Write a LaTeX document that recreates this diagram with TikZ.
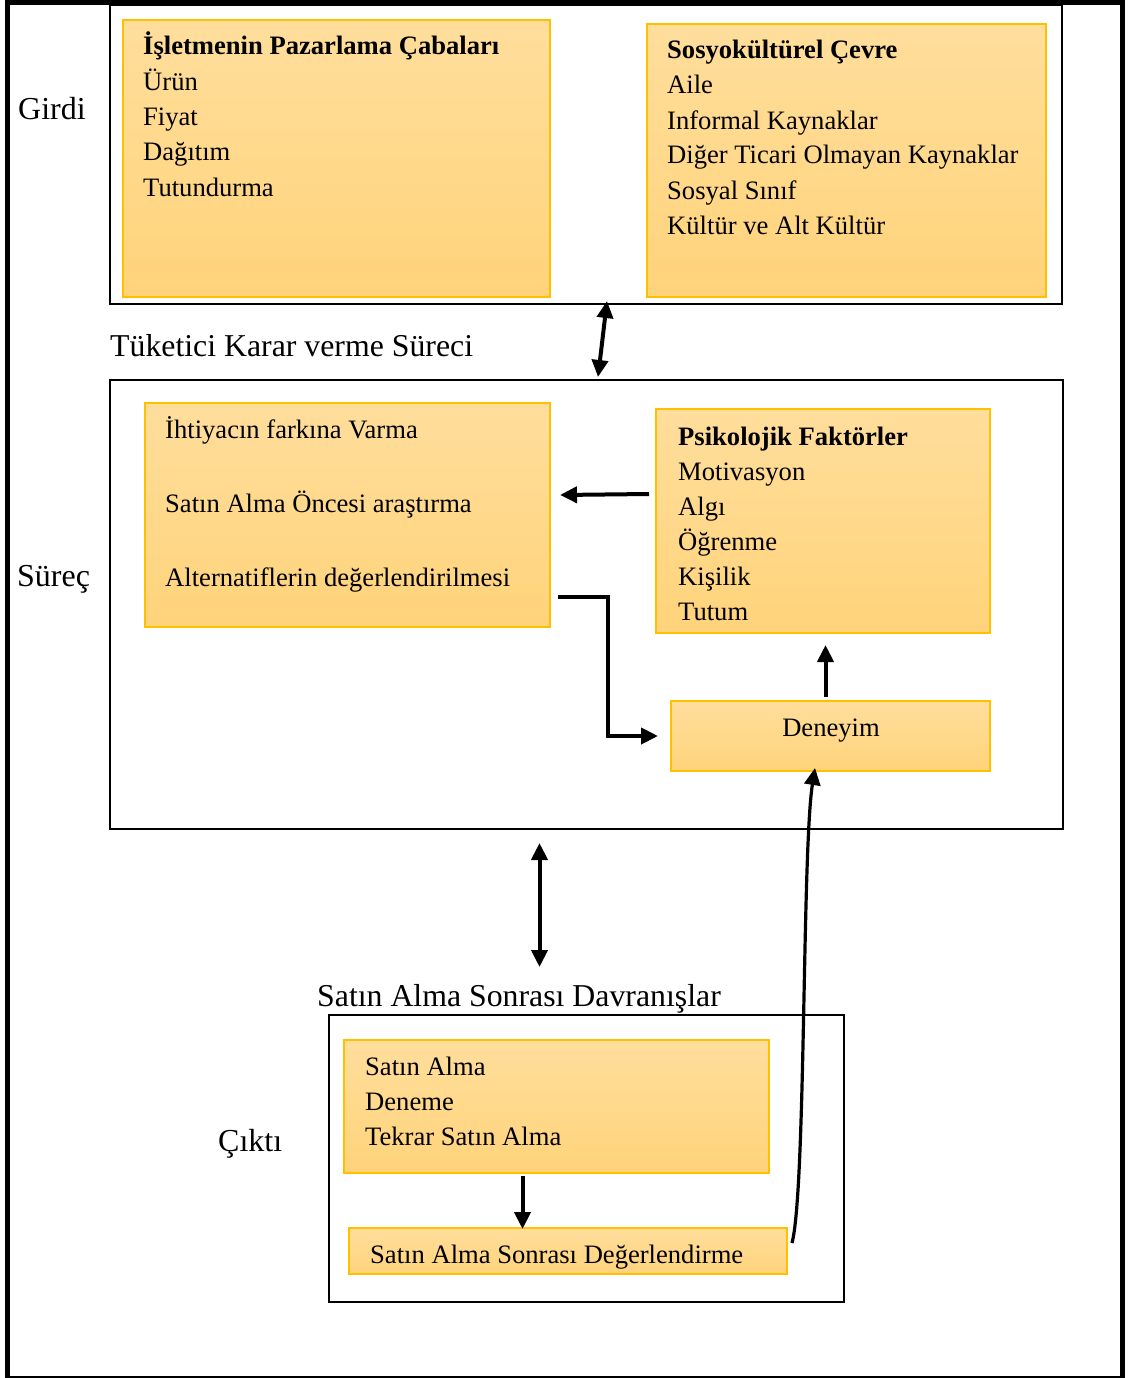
\documentclass[tikz,border=0pt]{standalone}
\usepackage{fontspec}
\setmainfont{Liberation Serif}
\usetikzlibrary{arrows.meta,calc}

\definecolor{boxedge}{RGB}{255,192,0}
\definecolor{boxtop}{RGB}{255,222,156}
\definecolor{boxbot}{RGB}{255,211,122}

\tikzset{
  frame/.style={draw=black, line width=2.5pt, inner sep=0pt, outer sep=0pt, anchor=north west},
  obox/.style={draw=boxedge, line width=1.8pt, top color=boxtop, bottom color=boxbot,
               inner sep=0pt, outer sep=0pt, anchor=north west},
  body/.style={font=\fontsize{26.6}{30}\selectfont, anchor=base west, inner sep=0pt},
  sidetext/.style={font=\fontsize{32}{36}\selectfont, anchor=base west, inner sep=0pt},
  headtext/.style={font=\fontsize{31.8}{36}\selectfont, anchor=base west, inner sep=0pt},
  arr/.style={line width=4pt, -{Triangle[length=17pt,width=16pt]}},
  darr/.style={line width=4pt, {Triangle[length=17pt,width=16pt]}-{Triangle[length=17pt,width=16pt]}},
}

\begin{document}
\begin{tikzpicture}[x=1pt,y=-1pt]
\useasboundingbox (0,0) rectangle (1129,1378);
\fill[white] (0,0) rectangle (1129,1378);

% page frame
\draw[line width=5pt] (5,2.5) -- (1125,2.5);
\draw[line width=5pt] (7.5,0) -- (7.5,1378);
\draw[line width=5pt] (1122.5,0) -- (1122.5,1378);
\draw[line width=2.5pt] (5,1377) -- (1125,1377);

% ---------- input ----------
\node[frame, minimum width=952pt, minimum height=299pt] (input) at (110,5) {};
\node[obox, minimum width=427pt, minimum height=277pt] (pm) at (123,20) {};
\node[obox, minimum width=399pt, minimum height=273pt] (sc) at (647,24) {};

\node[sidetext] (girdi) at (18,120) {Girdi};

\node[body] (pm-0) at (143,55) {\bfseries İşletmenin Pazarlama Çabaları};
\foreach \t [count=\i] in {Ürün,Fiyat,Dağıtım,Tutundurma}
  \node[body] (pm-\i) at (143,55+35.3*\i) {\t};

\node[body] (sc-0) at (667,59) {\bfseries Sosyokültürel Çevre};
\foreach \t [count=\i] in {Aile,Informal Kaynaklar,Diğer Ticari Olmayan Kaynaklar,Sosyal Sınıf,Kültür ve Alt Kültür}
  \node[body] (sc-\i) at (667,59+35*\i) {\t};

% ---------- process ----------
\node[headtext] (tkvs) at (110,356) {Tüketici Karar verme Süreci};
\node[frame, minimum width=953pt, minimum height=449pt] (process) at (110,380) {};
\node[obox, minimum width=405pt, minimum height=224pt] (need) at (145,403) {};
\node[obox, minimum width=334pt, minimum height=224pt] (psy) at (656,409) {};
\node[obox, minimum width=319pt, minimum height=70pt] (exp) at (671,701) {};

\node[sidetext] (surec) at (17,586) {Süreç};

\node[body] (need-1) at (165,438) {İhtiyacın farkına Varma};
\node[body] (need-2) at (165,512) {Satın Alma Öncesi araştırma};
\node[body] (need-3) at (165,586) {Alternatiflerin değerlendirilmesi};

\node[body] (psy-0) at (678,445) {\bfseries Psikolojik Faktörler};
\foreach \t [count=\i] in {Motivasyon,Algı,Öğrenme,Kişilik,Tutum}
  \node[body] (psy-\i) at (678,445+35*\i) {\t};

\node[body, anchor=base] (exp-t) at (831,736) {Deneyim};

% ---------- output ----------
\node[headtext] (sasd) at (317,1006) {Satın Alma Sonrası Davranışlar};
\node[frame, minimum width=515pt, minimum height=287pt] (output) at (329,1015) {};
\node[obox, minimum width=425pt, minimum height=133pt] (buy) at (344,1040) {};
\node[obox, minimum width=438pt, minimum height=46pt] (eval) at (349,1228) {};

\node[sidetext] (cikti) at (218,1151) {Çıktı};

\foreach \t [count=\i from 0] in {Satın Alma,Deneme,Tekrar Satın Alma}
  \node[body] (buy-\i) at (365,1075+35.3*\i) {\t};
\node[body] (eval-t) at (370,1263) {Satın Alma Sonrası Değerlendirme};

% ---------- connectors ----------
\draw[darr] ($(input.south)+(21,-3)$) -- ($(process.north)+(11.5,-3)$);
\draw[arr] ($(psy.west)+(-7,-27)$) -- ($(need.east)+(10,-20)$);
\draw[arr, line join=miter] ($(need.east)+(8,82)$) -- ++(50,0) |- ($(exp.west)+(-13,0)$);
\draw[arr] ($(exp.north)+(-5,-4)$) -- ($(exp.north)+(-5,-56)$);
\draw[darr] ($(process.south)+(-47,14)$) -- ($(process.south)+(-47,138)$);
\draw[arr] ($(buy.south)+(-34,3)$) -- ($(buy.south)+(-34,56)$);
\draw[arr, line width=3.2pt] ($(eval.east)+(5,-8)$) .. controls +(14,-53) and +(-13,82) .. ($(exp.south)+(-15.5,-3)$);
\end{tikzpicture}
\end{document}
